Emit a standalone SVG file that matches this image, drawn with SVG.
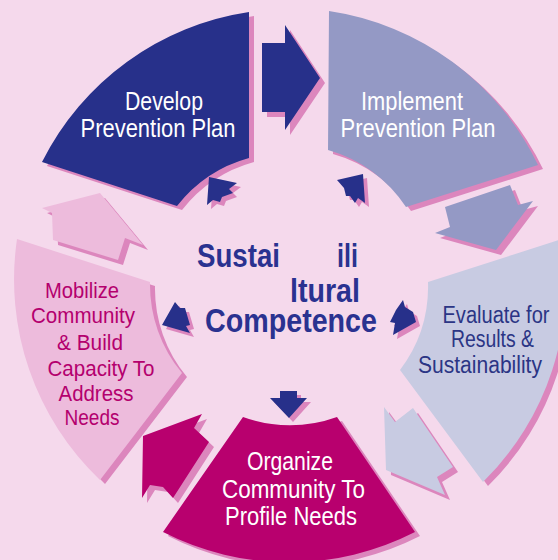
<svg xmlns="http://www.w3.org/2000/svg" width="558" height="560" viewBox="0 0 558 560">
<style>
.sh{fill:#dc86bd}
.navy{fill:#27308a}
.t{font-family:"Liberation Sans",Arial,sans-serif;text-anchor:middle}
.w{fill:#ffffff;font-size:25px}
.c{font-family:"Liberation Sans",Arial,sans-serif;font-weight:bold;font-size:33px;fill:#2a3290}
</style>
<rect width="558" height="560" fill="#f5d9ec"/>
<g id="develop">
<path class="sh" transform="translate(5,4)" d="M42,162 A277,277 0 0 1 249,12 L249,158 A138,138 0 0 0 177,206 Z"/>
<path fill="#27308a" d="M42,162 A277,277 0 0 1 249,12 L249,158 A138,138 0 0 0 177,206 Z"/>
<text class="t w" x="164" y="110" textLength="78" lengthAdjust="spacingAndGlyphs">Develop</text>
<text class="t w" x="158" y="137" textLength="155" lengthAdjust="spacingAndGlyphs">Prevention Plan</text>
</g>
<g id="implement">
<path class="sh" transform="translate(5,4)" d="M329,11 A277,277 0 0 1 538,165 L406,207 A138,138 0 0 0 328,150 Z"/>
<path fill="#9499c5" d="M329,11 A277,277 0 0 1 538,165 L406,207 A138,138 0 0 0 328,150 Z"/>
<text class="t w" x="412" y="110" textLength="102" lengthAdjust="spacingAndGlyphs">Implement</text>
<text class="t w" x="418" y="137" textLength="155" lengthAdjust="spacingAndGlyphs">Prevention Plan</text>
</g>
<g id="evaluate">
<path class="sh" transform="translate(5,4)" d="M428,282 L562,239 A277,277 0 0 1 483,482 L400,370 A138,138 0 0 0 428,282 Z"/>
<path fill="#c8cbe2" d="M428,282 L562,239 A277,277 0 0 1 483,482 L400,370 A138,138 0 0 0 428,282 Z"/>
<text class="t" x="496" y="323" font-size="23" fill="#2b3585" textLength="107" lengthAdjust="spacingAndGlyphs">Evaluate for</text>
<text class="t" x="492.5" y="347" font-size="23" fill="#2b3585" textLength="83" lengthAdjust="spacingAndGlyphs">Results &amp;</text>
<text class="t" x="480" y="373" font-size="23" fill="#2b3585" textLength="124" lengthAdjust="spacingAndGlyphs">Sustainability</text>
</g>
<g id="organize">
<path class="sh" transform="translate(5,4)" d="M243,417 A138,138 0 0 0 337,417 L415,532 A277,277 0 0 1 163,532 Z"/>
<path fill="#b8006e" d="M243,417 A138,138 0 0 0 337,417 L415,532 A277,277 0 0 1 163,532 Z"/>
<text class="t w" x="290" y="470" textLength="86" lengthAdjust="spacingAndGlyphs">Organize</text>
<text class="t w" x="293.5" y="498" textLength="143" lengthAdjust="spacingAndGlyphs">Community To</text>
<text class="t w" x="291" y="525" textLength="132" lengthAdjust="spacingAndGlyphs">Profile Needs</text>
</g>
<g id="mobilize">
<path class="sh" transform="translate(5,4)" d="M17,239 L150,282 A138,138 0 0 0 182,373 L100,480 A277,277 0 0 1 17,239 Z"/>
<path fill="#edbbdc" d="M17,239 L150,282 A138,138 0 0 0 182,373 L100,480 A277,277 0 0 1 17,239 Z"/>
<g class="t" font-size="22" fill="#b4006e">
<text x="82" y="298" textLength="74" lengthAdjust="spacingAndGlyphs">Mobilize</text>
<text x="83" y="323" textLength="104" lengthAdjust="spacingAndGlyphs">Community</text>
<text x="90" y="350" textLength="66" lengthAdjust="spacingAndGlyphs">&amp; Build</text>
<text x="101" y="376" textLength="107" lengthAdjust="spacingAndGlyphs">Capacity To</text>
<text x="96" y="401" textLength="75" lengthAdjust="spacingAndGlyphs">Address</text>
<text x="92" y="425" textLength="55" lengthAdjust="spacingAndGlyphs">Needs</text>
</g>
</g>
<g id="center">
<text class="c" x="197" y="267" textLength="83" lengthAdjust="spacingAndGlyphs">Sustai</text>
<text class="c" x="337" y="267" textLength="21" lengthAdjust="spacingAndGlyphs">ili</text>
<text class="c" x="290" y="302" textLength="70" lengthAdjust="spacingAndGlyphs">ltural</text>
<text class="c" x="205" y="332" textLength="172" lengthAdjust="spacingAndGlyphs">Competence</text>
</g>
<g id="connectors">
<g transform="translate(5,5)" class="sh">
<polygon points="262,43 285,43 285,25 320,78 285,130 285,112 262,112"/>
<polygon points="445,207 510,185 518,205 533,201 496,250 435,233 450,227"/>
<polygon points="384,407 395,422 413,408 453,467 437,477 445,495 386,470"/>
<polygon points="143,436 202,414 194,428 209,442 173,498 163,487 150,485 142,498"/>
<polygon points="42,208 100,193 143,245 125,238 118,260 53,240 52,213"/>
</g>
<polygon fill="#27308a" points="262,43 285,43 285,25 320,78 285,130 285,112 262,112"/>
<polygon fill="#9499c5" points="445,207 510,185 518,205 533,201 496,250 435,233 450,227"/>
<polygon fill="#c8cbe2" points="384,407 395,422 413,408 453,467 437,477 445,495 386,470"/>
<polygon fill="#b8006e" points="143,436 202,414 194,428 209,442 173,498 163,487 150,485 142,498"/>
<polygon fill="#edbbdc" points="42,208 100,193 143,245 125,238 118,260 53,240 52,213"/>
<g transform="translate(4,4)" class="sh">
<polygon points="209,177 237,183 229,189 233,193 222,197 220,202 213,200 207,205"/>
<polygon points="337,180 363,174 365,203 358,198 355,203 350,196 346,196 344,188"/>
<polygon points="175,302 180,308 185,308 190,325 186,326 190,333 162,325"/>
<polygon points="403,300 405,307 413,312 416,322 393,335 395,323 390,322 396,310"/>
<polygon points="280,391 297,391 297,398 307,398 289,418 270,398 280,398"/>
</g>
<g class="navy">
<polygon points="209,177 237,183 229,189 233,193 222,197 220,202 213,200 207,205"/>
<polygon points="337,180 363,174 365,203 358,198 355,203 350,196 346,196 344,188"/>
<polygon points="175,302 180,308 185,308 190,325 186,326 190,333 162,325"/>
<polygon points="403,300 405,307 413,312 416,322 393,335 395,323 390,322 396,310"/>
<polygon points="280,391 297,391 297,398 307,398 289,418 270,398 280,398"/>
</g>
</g>
</svg>
